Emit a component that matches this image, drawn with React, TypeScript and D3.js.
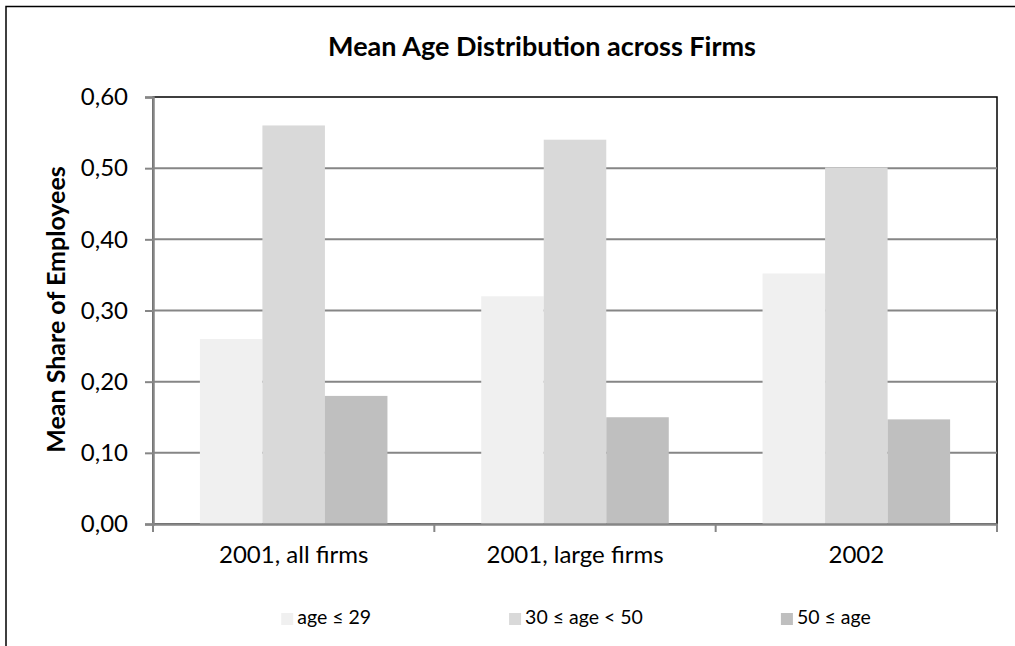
import { useRef, useEffect } from 'react';
import * as d3 from 'd3';

const categories = ['2001, all firms', '2001, large firms', '2002'];
const seriesNames = ['age ≤ 29', '30 ≤ age < 50', '50 ≤ age'];
const youngShare = [0.26, 0.32, 0.352];
const middleShare = [0.56, 0.54, 0.501];
const olderShare = [0.18, 0.15, 0.147];
const seriesColors = ['#F0F0F0', '#D9D9D9', '#BFBFBF'];
const yTicks = [0, 0.1, 0.2, 0.3, 0.4, 0.5, 0.6];

const WIDTH = 1015;
const HEIGHT = 646;
const FONT = 'Lato, "Open Sans", sans-serif';

export default function App() {
	const svgRef = useRef<SVGSVGElement>(null);

	useEffect(() => {
		document.body.style.margin = '0';
		const svg = d3.select(svgRef.current);
		svg.selectAll('*').remove();

		const series = [youngShare, middleShare, olderShare];
		const plot = { left: 153, right: 997, top: 97, bottom: 524 };

		// outer chart border (runs off the picture on right / bottom)
		svg.append('rect')
			.attr('x', 6)
			.attr('y', 6.5)
			.attr('width', WIDTH + 60)
			.attr('height', HEIGHT + 60)
			.attr('fill', 'white')
			.attr('stroke', '#000')
			.attr('stroke-width', 1.5);

		const x = d3
			.scaleBand<string>()
			.domain(categories)
			.range([plot.left, plot.right]);
		const xInner = d3
			.scaleBand<string>()
			.domain(seriesNames)
			.range([0, x.bandwidth()])
			.paddingInner(0)
			.paddingOuter(0.75);
		const y = d3
			.scaleLinear()
			.domain([0, 0.6])
			.range([plot.bottom, plot.top]);

		// plot area border (top + right show black)
		svg.append('rect')
			.attr('x', plot.left)
			.attr('y', plot.top)
			.attr('width', plot.right - plot.left)
			.attr('height', plot.bottom - plot.top)
			.attr('fill', 'none')
			.attr('stroke', '#000')
			.attr('stroke-width', 1.5);

		// gridlines
		svg.append('g')
			.selectAll('line')
			.data(yTicks.filter((t) => t > 0 && t < 0.6))
			.join('line')
			.attr('x1', plot.left)
			.attr('x2', plot.right)
			.attr('y1', (d) => y(d))
			.attr('y2', (d) => y(d))
			.attr('stroke', '#868686')
			.attr('stroke-width', 2);

		// bars
		series.forEach((vals, si) => {
			svg.append('g')
				.selectAll('rect')
				.data(vals)
				.join('rect')
				.attr('x', (_, i) => (x(categories[i]) ?? 0) + (xInner(seriesNames[si]) ?? 0))
				.attr('y', (d) => y(d))
				.attr('width', xInner.bandwidth())
				.attr('height', (d) => y(0) - y(d))
				.attr('fill', seriesColors[si]);
		});

		// y axis
		const yAxis = svg
			.append('g')
			.attr('transform', `translate(${plot.left},0)`)
			.call(
				d3
					.axisLeft(y)
					.tickValues(yTicks)
					.tickSize(8)
					.tickPadding(17)
					.tickFormat((d) => d3.format('.2f')(d as number).replace('.', ',')),
			);
		yAxis.select('.domain').attr('stroke', '#868686').attr('stroke-width', 2.5);
		yAxis.selectAll('.tick line').attr('stroke', '#868686').attr('stroke-width', 2);
		yAxis.selectAll('text')
			.attr('font-family', FONT)
			.attr('font-size', 24)
			.attr('fill', '#000');

		// x axis
		const xAxis = svg
			.append('g')
			.attr('transform', `translate(0,${plot.bottom})`)
			.call(d3.axisBottom(x).tickSize(0).tickPadding(22));
		xAxis.select('.domain').attr('stroke', '#868686').attr('stroke-width', 2.5);
		xAxis.selectAll('text')
			.attr('font-family', FONT)
			.attr('font-size', 24)
			.attr('fill', '#000');
		// category boundary ticks
		const bounds = categories.map((c) => x(c) as number).concat(plot.right);
		xAxis.append('g')
			.selectAll('line')
			.data(bounds)
			.join('line')
			.attr('x1', (d) => d)
			.attr('x2', (d) => d)
			.attr('y1', 0)
			.attr('y2', 8)
			.attr('stroke', '#868686')
			.attr('stroke-width', 2);

		// y label
		svg.append('text')
			.attr('transform', `translate(65,${(plot.top + plot.bottom) / 2 - 1}) rotate(-90)`)
			.attr('text-anchor', 'middle')
			.attr('font-family', FONT)
			.attr('font-size', 25)
			.attr('font-weight', 700)
			.text('Mean Share of Employees');

		// title
		svg.append('text')
			.attr('x', 542)
			.attr('y', 56)
			.attr('text-anchor', 'middle')
			.attr('font-family', FONT)
			.attr('font-size', 27)
			.attr('font-weight', 700)
			.text('Mean Age Distribution across Firms');

		// legend
		const legend = svg.append('g');
		const entries = seriesNames.map((name, i) => {
			const eg = legend.append('g');
			eg.append('rect')
				.attr('x', 0)
				.attr('y', -11)
				.attr('width', 12)
				.attr('height', 12)
				.attr('fill', seriesColors[i]);
			const t = eg
				.append('text')
				.attr('x', 16)
				.attr('y', 0)
				.attr('font-family', FONT)
				.attr('font-size', 19.5)
				.text(name);
			const w = 16 + (t.node() as SVGTextElement).getComputedTextLength();
			return { eg, w };
		});
		const gap = 138;
		const total = d3.sum(entries, (e) => e.w) + gap * (entries.length - 1);
		let cx = 576 - total / 2;
		entries.forEach((e) => {
			e.eg.attr('transform', `translate(${cx},624)`);
			cx += e.w + gap;
		});
	}, []);

	return (
		<svg
			ref={svgRef}
			width={WIDTH}
			height={HEIGHT}
			style={{ display: 'block', background: 'white' }}
		/>
	);
}
